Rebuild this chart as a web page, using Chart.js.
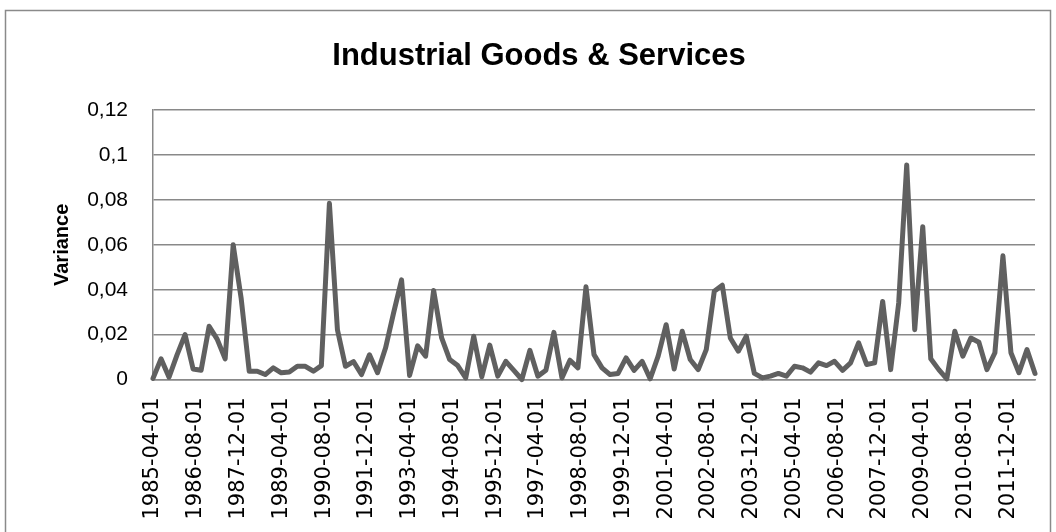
<!DOCTYPE html>
<html>
<head>
<meta charset="utf-8">
<script src="https://cdn.jsdelivr.net/npm/chart.js@4.4.0/dist/chart.umd.min.js"></script>
<style>
  html, body { margin: 0; padding: 0; background: #fff; }
  #wrap { width: 1056px; height: 532px; }
</style>
</head>
<body>
<div id="wrap"><canvas id="chart"></canvas></div>
<script>
// textes du graphique
const chartTitle = 'Industrial Goods & Services';
const yAxisTitle = 'Variance';

// première date de la série (une valeur tous les 3 mois)
const startDate = '1985-04-01';

// variance trimestrielle
const variance = [
  0.0005, 0.0092, 0.001, 0.011, 0.020, 0.0047, 0.0041, 0.0237, 0.018, 0.0092,
  0.060, 0.036, 0.0037, 0.0037, 0.0022, 0.0052, 0.003, 0.0033, 0.0059, 0.0059,
  0.0037, 0.0062, 0.0785, 0.0222, 0.0059, 0.008, 0.0022, 0.011, 0.003, 0.014,
  0.0296, 0.0444, 0.0018, 0.015, 0.0104, 0.0397, 0.0185, 0.0089, 0.0062, 0.0007,
  0.0193, 0.0012, 0.0153, 0.0015, 0.0081, 0.0041, 0.0, 0.013, 0.0015, 0.0041,
  0.021, 0.0007, 0.0086, 0.0052, 0.0413, 0.0111, 0.0052, 0.0022, 0.0027, 0.0096,
  0.0041, 0.0081, 0.0003, 0.0104, 0.0244, 0.0047, 0.0215, 0.0089, 0.0044, 0.0133,
  0.0393, 0.042, 0.0185, 0.0126, 0.0193, 0.0027, 0.0007, 0.0015, 0.0027, 0.0015,
  0.0059, 0.0052, 0.0033, 0.0074, 0.0062, 0.0081, 0.0041, 0.0074, 0.0163, 0.0067,
  0.0074, 0.0348, 0.0044, 0.0341, 0.0956, 0.0222, 0.0681, 0.0092, 0.0044, 0.0003,
  0.0215, 0.0104, 0.0185, 0.0166, 0.0044, 0.0119, 0.0551, 0.0119, 0.003, 0.0133,
  0.0027
];

// labels de l'axe x (tous les 16 mois)
const xTickLabels = [
  '1985-04-01', '1986-08-01', '1987-12-01', '1989-04-01', '1990-08-01',
  '1991-12-01', '1993-04-01', '1994-08-01', '1995-12-01', '1997-04-01',
  '1998-08-01', '1999-12-01', '2001-04-01', '2002-08-01', '2003-12-01',
  '2005-04-01', '2006-08-01', '2007-12-01', '2009-04-01', '2010-08-01',
  '2011-12-01'
];

// graduations de l'axe y
const yTicks = [0, 0.02, 0.04, 0.06, 0.08, 0.1, 0.12];

// nombre de mois depuis la date de départ
function monthsSince(dateStr) {
  const [y, m] = dateStr.split('-').map(Number);
  const [y0, m0] = startDate.split('-').map(Number);
  return (y - y0) * 12 + (m - m0);
}

// dates de chaque valeur (trimestres)
const dates = variance.map((v, i) => {
  const [y0, m0] = startDate.split('-').map(Number);
  const total = (m0 - 1) + i * 3;
  const y = y0 + Math.floor(total / 12);
  const m = (total % 12) + 1;
  return `${y}-${String(m).padStart(2, '0')}-01`;
});

const points = dates.map((d, i) => ({ x: monthsSince(d), y: variance[i] }));

// cadre gris autour du graphique
const framePlugin = {
  id: 'frame',
  beforeDraw(chart) {
    const { ctx } = chart;
    ctx.save();
    ctx.strokeStyle = '#8a8a8a';
    ctx.lineWidth = 1.5;
    ctx.strokeRect(5.5, 10.5, 1045, 600);
    ctx.restore();
  },
};

const gridColor = '#898989';

new Chart(document.getElementById('chart'), {
  type: 'line',
  data: {
    datasets: [
      {
        label: yAxisTitle,
        data: points,
        borderColor: '#606060',
        borderWidth: 5,
        pointRadius: 0,
        tension: 0,
        borderJoinStyle: 'round',
        borderCapStyle: 'round',
        clip: 8,
      },
    ],
  },
  options: {
    responsive: true,
    maintainAspectRatio: false,
    animation: false,
    layout: { padding: { left: 43, right: 21, top: 0, bottom: 0 } },
    plugins: {
      legend: { display: false },
      tooltip: { enabled: false },
      title: {
        display: true,
        text: chartTitle,
        color: '#000',
        font: { family: 'Liberation Sans', size: 31, weight: 'bold', lineHeight: 1.2 },
        padding: { top: 38, bottom: 35 },
      },
    },
    scales: {
      x: {
        type: 'linear',
        min: 0,
        max: monthsSince(dates[dates.length - 1]),
        afterBuildTicks: (scale) => {
          scale.ticks = xTickLabels.map((l) => ({ value: monthsSince(l) }));
        },
        afterFit: (scale) => {
          scale.height = 152.5;
        },
        grid: { display: false, drawTicks: false },
        border: { display: true, color: gridColor, width: 1.5 },
        ticks: {
          autoSkip: false,
          minRotation: 90,
          maxRotation: 90,
          padding: 18,
          color: '#000',
          font: { family: 'DejaVu Sans', size: 21 },
          callback: (value, index) => xTickLabels[index],
        },
      },
      y: {
        min: yTicks[0],
        max: yTicks[yTicks.length - 1],
        afterBuildTicks: (scale) => {
          scale.ticks = yTicks.map((v) => ({ value: v }));
        },
        afterFit: (scale) => {
          scale.width = 110;
        },
        grid: { color: gridColor, lineWidth: 1.5, drawTicks: false },
        border: { display: true, color: gridColor, width: 1.5 },
        ticks: {
          padding: 25,
          color: '#000',
          font: { family: 'Liberation Sans', size: 21 },
          callback: (value) => String(+value.toFixed(2)).replace('.', ','),
        },
        title: {
          display: true,
          text: yAxisTitle,
          color: '#000',
          font: { family: 'Liberation Sans', size: 20, weight: 'bold', lineHeight: 1.2 },
          padding: { top: 7, bottom: 0 },
        },
      },
    },
  },
  plugins: [framePlugin],
});
</script>
</body>
</html>
